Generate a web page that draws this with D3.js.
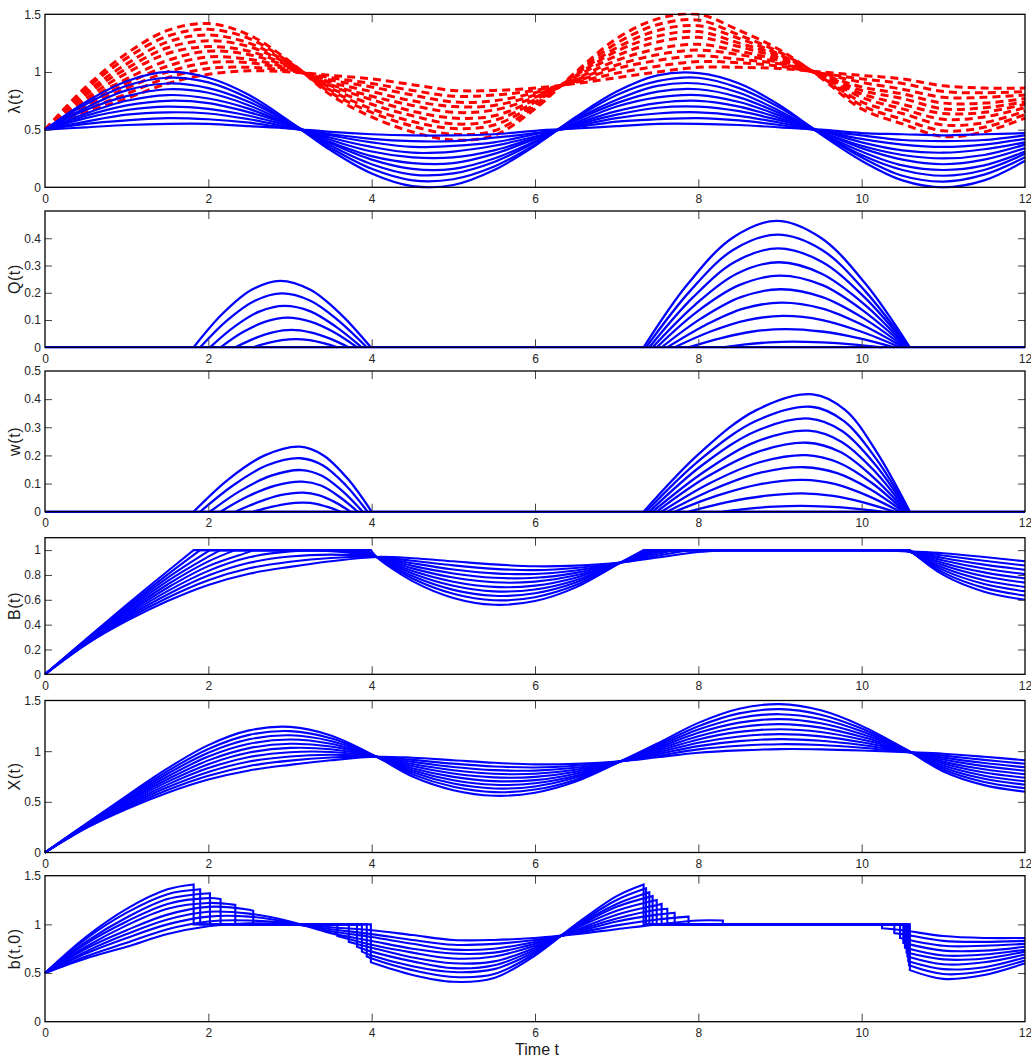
<!DOCTYPE html>
<html><head><meta charset="utf-8">
<script src="https://cdn.jsdelivr.net/npm/d3@7"></script>
<style>
body{margin:0;background:#fff;}
.tick text{font-family:"Liberation Sans Narrow","Arial Narrow","Liberation Sans",sans-serif;font-size:12px;fill:#262626;}
.tick line{stroke:#444;stroke-width:1;}
.ylab{font-family:"Liberation Sans",Arial,sans-serif;font-size:16px;fill:#1a1a1a;letter-spacing:0.6px;}
.xlab{font-family:"Liberation Sans Narrow","Arial Narrow",sans-serif;font-size:16px;fill:#1a1a1a;}
</style></head>
<body>
<svg id="c" width="1031" height="1059"></svg>
<script>
// ---------------- DATA ----------------
const xTickValues = [0, 2, 4, 6, 8, 10, 12];
const timeGrid = [0,0.5,1,1.5,2,2.5,3,3.5,4,4.5,5,5.5,6,6.5,7,7.5,8,8.5,9,9.5,10,10.5,11,11.5,12];

// lambda(t) blue curves (10 amplitudes, smallest first)
const lambdaBlue = [
 [.5,.52,.54,.55,.55,.53,.51,.48,.46,.45,.45,.46,.49,.51,.53,.55,.55,.54,.52,.50,.47,.46,.45,.46,.47],
 [.5,.55,.58,.60,.59,.56,.51,.46,.42,.40,.40,.43,.47,.52,.57,.59,.60,.58,.54,.49,.45,.41,.40,.41,.45],
 [.5,.57,.63,.65,.64,.59,.52,.45,.39,.35,.36,.39,.46,.53,.60,.64,.65,.62,.56,.49,.42,.37,.35,.37,.42],
 [.5,.60,.67,.70,.68,.62,.53,.43,.35,.30,.31,.36,.44,.54,.63,.69,.70,.66,.58,.49,.39,.32,.30,.33,.39],
 [.5,.62,.71,.75,.73,.65,.54,.41,.31,.26,.26,.32,.43,.55,.66,.73,.75,.70,.60,.48,.36,.28,.25,.28,.37],
 [.5,.64,.75,.80,.77,.68,.54,.39,.27,.21,.21,.29,.42,.56,.70,.78,.80,.74,.62,.48,.34,.24,.20,.24,.34],
 [.5,.67,.79,.85,.82,.71,.55,.38,.24,.16,.16,.25,.40,.58,.73,.83,.85,.78,.64,.47,.31,.19,.15,.19,.31],
 [.5,.69,.84,.90,.86,.74,.56,.36,.20,.11,.12,.22,.39,.59,.76,.88,.90,.82,.66,.47,.28,.15,.10,.15,.29],
 [.5,.72,.88,.95,.91,.77,.56,.34,.16,.06,.07,.18,.37,.60,.80,.92,.95,.86,.69,.47,.26,.10,.05,.11,.26],
 [.5,.74,.92,1.0,.95,.80,.57,.32,.12,.01,.02,.15,.36,.61,.83,.97,.99,.90,.71,.46,.23,.06,0,.06,.23]
];

// red dashed curves in the lambda panel (smooth entry-rate curves)
const lambdaRed = [
 [.5,.65,.77,.90,.98,1.01,1.0,.97,.94,.89,.84,.84,.86,.90,.95,1.0,1.04,1.04,1.03,1.0,.97,.94,.88,.86,.86],
 [.5,.67,.81,.95,1.03,1.04,1.01,.95,.90,.84,.79,.80,.84,.91,.99,1.05,1.09,1.08,1.05,.99,.94,.90,.83,.82,.83],
 [.5,.70,.86,1.00,1.08,1.08,1.02,.93,.87,.80,.74,.75,.82,.92,1.03,1.10,1.14,1.11,1.07,.99,.91,.85,.78,.78,.80],
 [.5,.72,.90,1.05,1.13,1.11,1.03,.91,.83,.75,.70,.71,.80,.93,1.06,1.15,1.19,1.15,1.08,.98,.87,.81,.73,.73,.77],
 [.5,.75,.94,1.10,1.18,1.15,1.04,.89,.79,.71,.65,.67,.78,.94,1.10,1.20,1.24,1.18,1.10,.98,.84,.77,.68,.69,.74],
 [.5,.77,.99,1.16,1.22,1.18,1.05,.88,.76,.66,.60,.62,.76,.96,1.14,1.26,1.30,1.22,1.12,.97,.81,.72,.64,.65,.72],
 [.5,.80,1.03,1.21,1.27,1.22,1.06,.86,.72,.62,.55,.58,.74,.97,1.18,1.31,1.35,1.25,1.14,.97,.78,.68,.59,.61,.69],
 [.5,.82,1.07,1.26,1.32,1.25,1.07,.84,.68,.57,.51,.54,.72,.98,1.21,1.36,1.40,1.29,1.15,.96,.74,.64,.54,.56,.66],
 [.5,.85,1.12,1.31,1.37,1.29,1.08,.82,.65,.53,.46,.49,.70,.99,1.25,1.41,1.45,1.32,1.17,.96,.71,.59,.49,.52,.63],
 [.5,.87,1.16,1.36,1.42,1.32,1.09,.80,.61,.48,.41,.45,.68,1.0,1.29,1.46,1.50,1.36,1.19,.95,.68,.55,.44,.48,.60]
];

// X(t) curves
const xGrid = [0,0.5,1,1.5,2,2.5,3,3.5,4.06,4.5,5,5.5,6,6.5,7.05,7.5,8,8.5,9,9.5,10,10.55,11,11.5,12];
const Xvalues = [
 [0,.24,.43,.59,.72,.81,.865,.91,.945,.935,.91,.885,.87,.875,.90,.94,.985,1.008,1.02,1.018,1.007,.99,.975,.945,.91],
 [0,.24,.444,.617,.758,.854,.907,.937,.945,.914,.877,.849,.839,.856,.90,.955,1.018,1.054,1.069,1.061,1.034,.993,.956,.914,.876],
 [0,.25,.459,.643,.795,.898,.948,.964,.945,.894,.844,.813,.808,.836,.90,.97,1.05,1.099,1.119,1.103,1.061,.996,.936,.883,.841],
 [0,.25,.473,.67,.833,.942,.99,.992,.945,.873,.812,.777,.777,.817,.90,.985,1.083,1.145,1.168,1.146,1.088,.998,.917,.852,.807],
 [0,.26,.488,.697,.871,.986,1.032,1.019,.945,.853,.779,.741,.746,.797,.90,1.0,1.116,1.19,1.217,1.189,1.115,1.001,.897,.821,.772],
 [0,.26,.502,.723,.909,1.03,1.073,1.046,.945,.832,.746,.704,.714,.778,.90,1.016,1.148,1.236,1.267,1.232,1.142,1.004,.878,.789,.738],
 [0,.27,.517,.75,.947,1.073,1.115,1.073,.945,.812,.713,.668,.683,.758,.90,1.031,1.181,1.282,1.316,1.275,1.169,1.007,.858,.758,.703],
 [0,.27,.531,.777,.985,1.117,1.157,1.10,.945,.791,.68,.632,.652,.739,.90,1.046,1.214,1.328,1.365,1.317,1.196,1.009,.839,.727,.669],
 [0,.28,.546,.803,1.022,1.161,1.198,1.128,.945,.771,.648,.596,.621,.719,.90,1.061,1.246,1.373,1.415,1.36,1.223,1.012,.819,.696,.634],
 [0,.28,.56,.83,1.06,1.205,1.24,1.155,.945,.75,.615,.56,.59,.70,.90,1.076,1.279,1.419,1.464,1.403,1.25,1.015,.80,.665,.60]
];

// intervals where the queue is positive (start, end), per curve
const queueIntervals = [
 [[8.30,10.25]],
 [[7.88,10.40]],
 [[7.71,10.47]],
 [[7.62,10.51]],
 [[2.55,3.58],[7.55,10.53]],
 [[2.33,3.72],[7.49,10.55]],
 [[2.15,3.82],[7.44,10.56]],
 [[2.02,3.88],[7.40,10.57]],
 [[1.90,3.94],[7.36,10.58]],
 [[1.82,3.99],[7.33,10.59]]
];
// b(t,0) value just before the queue starts and just after it empties
const bStepValues = [
 [[1.04,.96]],
 [[1.08,.91]],
 [[1.12,.86]],
 [[1.16,.81]],
 [[1.14,.88],[1.21,.76]],
 [[1.20,.82],[1.25,.71]],
 [[1.26,.77],[1.29,.67]],
 [[1.32,.72],[1.33,.62]],
 [[1.36,.67],[1.37,.58]],
 [[1.41,.61],[1.41,.53]]
];

// Q(t) humps
const Qhumps = [
 [[[8.30,0],[8.58,.011],[8.87,.018],[9.15,.021],[9.52,.018],[9.88,.011],[10.25,0]]],
 [[[7.88,0],[8.28,.034],[8.67,.058],[9.07,.067],[9.51,.058],[9.96,.034],[10.40,0]]],
 [[[7.71,0],[8.15,.058],[8.60,.100],[9.04,.115],[9.52,.100],[9.99,.058],[10.47,0]]],
 [[[7.62,0],[8.09,.082],[8.55,.142],[9.02,.164],[9.52,.142],[10.01,.082],[10.51,0]]],
 [[[2.55,0],[2.72,.015],[2.90,.026],[3.07,.030],[3.24,.026],[3.41,.015],[3.58,0]],[[7.55,0],[8.04,.107],[8.52,.184],[9.01,.213],[9.52,.184],[10.02,.107],[10.53,0]]],
 [[[2.33,0],[2.56,.032],[2.79,.055],[3.02,.064],[3.25,.055],[3.49,.032],[3.72,0]],[[7.49,0],[7.99,.132],[8.50,.228],[9.0,.263],[9.52,.228],[10.03,.132],[10.55,0]]],
 [[[2.15,0],[2.42,.055],[2.70,.094],[2.97,.109],[3.25,.094],[3.54,.055],[3.82,0]],[[7.44,0],[7.96,.156],[8.47,.270],[8.99,.312],[9.51,.270],[10.04,.156],[10.56,0]]],
 [[[2.02,0],[2.32,.076],[2.63,.132],[2.93,.152],[3.25,.132],[3.56,.076],[3.88,0]],[[7.40,0],[7.93,.182],[8.45,.314],[8.98,.363],[9.51,.314],[10.04,.182],[10.57,0]]],
 [[[1.90,0],[2.23,.099],[2.57,.171],[2.90,.198],[3.25,.171],[3.59,.099],[3.94,0]],[[7.36,0],[7.90,.207],[8.43,.358],[8.97,.413],[9.51,.358],[10.04,.207],[10.58,0]]],
 [[[1.82,0],[2.17,.122],[2.53,.211],[2.88,.244],[3.25,.211],[3.62,.122],[3.99,0]],[[7.33,0],[7.87,.232],[8.42,.402],[8.96,.464],[9.50,.402],[10.05,.232],[10.59,0]]]
];

// w(t) humps
const whumps = [
 [[[8.30,0],[8.62,.011],[8.93,.018],[9.25,.021],[9.58,.018],[9.92,.011],[10.25,0]]],
 [[[7.88,0],[8.34,.033],[8.81,.056],[9.27,.065],[9.65,.056],[10.02,.033],[10.40,0]]],
 [[[7.71,0],[8.23,.057],[8.76,.098],[9.28,.113],[9.68,.098],[10.07,.057],[10.47,0]]],
 [[[7.62,0],[8.18,.079],[8.74,.137],[9.30,.158],[9.70,.137],[10.11,.079],[10.51,0]]],
 [[[2.55,0],[2.76,.016],[2.96,.028],[3.17,.032],[3.32,.028],[3.47,.016],[3.62,0]],[[7.55,0],[8.14,.101],[8.73,.174],[9.32,.201],[9.72,.174],[10.13,.101],[10.53,0]]],
 [[[2.33,0],[2.61,.034],[2.88,.059],[3.16,.068],[3.35,.059],[3.55,.034],[3.74,0]],[[7.49,0],[8.10,.123],[8.72,.212],[9.33,.245],[9.74,.212],[10.14,.123],[10.55,0]]],
 [[[2.15,0],[2.48,.054],[2.82,.093],[3.15,.107],[3.38,.093],[3.60,.054],[3.83,0]],[[7.44,0],[8.08,.144],[8.71,.249],[9.35,.288],[9.75,.249],[10.16,.144],[10.56,0]]],
 [[[2.02,0],[2.39,.074],[2.77,.128],[3.14,.148],[3.39,.128],[3.64,.074],[3.89,0]],[[7.40,0],[8.05,.166],[8.71,.287],[9.36,.331],[9.76,.287],[10.17,.166],[10.57,0]]],
 [[[1.90,0],[2.31,.095],[2.72,.165],[3.13,.190],[3.40,.165],[3.68,.095],[3.95,0]],[[7.36,0],[8.03,.187],[8.71,.323],[9.38,.373],[9.78,.323],[10.18,.187],[10.58,0]]],
 [[[1.82,0],[2.25,.116],[2.69,.200],[3.12,.231],[3.41,.200],[3.71,.116],[4.0,0]],[[7.33,0],[8.02,.209],[8.71,.361],[9.40,.417],[9.80,.361],[10.19,.209],[10.59,0]]]
];

const yTicksLambda = [0, 0.5, 1, 1.5];
const yTicksQ = [0, 0.1, 0.2, 0.3, 0.4];
const yTicksW = [0, 0.1, 0.2, 0.3, 0.4, 0.5];
const yTicksB = [0, 0.2, 0.4, 0.6, 0.8, 1];
const yTicksX = [0, 0.5, 1, 1.5];
const yTicksb = [0, 0.5, 1, 1.5];

// ---------------- DRAWING ----------------
const svg = d3.select('#c');
const X0 = 45, X1 = 1025;
const x = d3.scaleLinear().domain([0, 12]).range([X0, X1]);
const BLUE = '#0000ff', RED = '#ff0000';

function panel(top, bottom, ymax, yticks, label) {
  const y = d3.scaleLinear().domain([0, ymax]).range([bottom, top]);
  const id = 'clip' + Math.round(top);
  svg.append('clipPath').attr('id', id).append('rect')
    .attr('x', X0 - 1.5).attr('y', top - 1.5).attr('width', X1 - X0 + 3).attr('height', bottom - top + 3);
  const plot = svg.append('g').attr('clip-path', `url(#${id})`);
  const ax = svg.append('g');
  const bx = ax.append('g').attr('transform', `translate(0,${bottom})`)
    .call(d3.axisBottom(x).tickValues(xTickValues).tickSizeInner(-8).tickSizeOuter(0).tickPadding(7).tickFormat(d => String(d)));
  const tx = ax.append('g').attr('transform', `translate(0,${top})`)
    .call(d3.axisTop(x).tickValues(xTickValues.slice(1, -1)).tickSizeInner(-8).tickSizeOuter(0).tickFormat(''));
  const lx = ax.append('g').attr('transform', `translate(${X0},0)`)
    .call(d3.axisLeft(y).tickValues(yticks).tickSizeInner(-7).tickSizeOuter(0).tickPadding(4).tickFormat(d => String(d)));
  const rx = ax.append('g').attr('transform', `translate(${X1},0)`)
    .call(d3.axisRight(y).tickValues(yticks.filter(v => v > 0 && v < ymax)).tickSizeInner(-7).tickSizeOuter(0).tickFormat(''));
  [bx, tx, lx, rx].forEach(a => a.select('.domain').remove());
  bx.selectAll('.tick line').filter(d => d === 0 || d === 12).remove();
  lx.selectAll('.tick line').filter(d => d === 0 || d === ymax).remove();
  ax.append('rect').attr('x', X0).attr('y', top).attr('width', X1 - X0).attr('height', bottom - top)
    .attr('fill', 'none').attr('stroke', '#000').attr('stroke-width', 1.3);
  svg.append('text').attr('class', 'ylab').attr('text-anchor', 'middle')
    .attr('transform', `translate(20,${(top + bottom) / 2}) rotate(-90)`).text(label);
  return { y, plot };
}

function pairs(T, vals) { return T.map((t, i) => [t, vals[i]]); }

function buildSegs(T, vals, ivs, flat) {
  const m = 0.045, segs = [];
  let start = null, lo = -Infinity;
  const pts = (a, b) => T.map((t, i) => [t, vals[i]]).filter(p => p[0] > a && p[0] < b);
  ivs.forEach(([s, vs, e, ve]) => {
    const seg = (start ? [start] : []).concat(pts(lo + m, s - m));
    seg.push([s, vs]);
    segs.push(seg);
    segs.push([[s, flat], [e, flat]]);
    start = [e, ve]; lo = e;
  });
  segs.push((start ? [start] : []).concat(pts(lo + m, Infinity)));
  return segs;
}
function segPath(segs, line) {
  return segs.filter(s => s.length > 1).map((s, i) => { const d = line(s); return i ? d.replace(/^M/, 'L') : d; }).join('');
}

// Panel 1: lambda(t)
{
  const { y, plot } = panel(14.3, 187.3, 1.5, yTicksLambda, 'λ(t)');
  const line = d3.line().x(d => x(d[0])).y(d => y(d[1])).curve(d3.curveCatmullRom.alpha(0.5));
  lambdaRed.forEach(v => plot.append('path').attr('d', line(pairs(timeGrid, v)))
    .attr('fill', 'none').attr('stroke', RED).attr('stroke-width', 3).attr('stroke-dasharray', '8,5'));
  lambdaBlue.forEach(v => plot.append('path').attr('d', line(pairs(timeGrid, v)))
    .attr('fill', 'none').attr('stroke', BLUE).attr('stroke-width', 2.2));
}
// Panels 2-3: Q(t), w(t)
function humpPanel(top, bottom, ticks, label, humps) {
  const { y, plot } = panel(top, bottom, 0.5, ticks, label);
  const line = d3.line().x(d => x(d[0])).y(d => Math.min(y(d[1]), y(0))).curve(d3.curveCatmullRom.alpha(0.5));
  plot.append('path').attr('d', d3.line().x(d => x(d[0])).y(d => y(d[1]))([[0, 0], [12, 0]]))
    .attr('stroke', BLUE).attr('stroke-width', 2.4).attr('fill', 'none');
  humps.forEach(list => list.forEach(h => plot.append('path').attr('d', line(h))
    .attr('fill', 'none').attr('stroke', BLUE).attr('stroke-width', 2.3)));
}
humpPanel(211, 347.3, yTicksQ, 'Q(t)', Qhumps);
humpPanel(371, 511.7, yTicksW, 'w(t)', whumps);

// Panel 4: B(t)
{
  const { y, plot } = panel(537.7, 674.3, 1.1, yTicksB, 'B(t)');
  const line = d3.line().x(d => x(d[0])).y(d => y(d[1])).curve(d3.curveCatmullRom.alpha(0.5));
  Xvalues.forEach((v, k) => {
    const ivs = queueIntervals[k].map(([s, e]) => [s, 1, e, 1]);
    plot.append('path').attr('d', segPath(buildSegs(xGrid, v, ivs, 1), line))
      .attr('fill', 'none').attr('stroke', BLUE).attr('stroke-width', 2.1);
  });
}
// Panel 5: X(t)
{
  const { y, plot } = panel(700.5, 852.5, 1.5, yTicksX, 'X(t)');
  const line = d3.line().x(d => x(d[0])).y(d => y(d[1])).curve(d3.curveCatmullRom.alpha(0.5));
  Xvalues.forEach(v => plot.append('path').attr('d', line(pairs(xGrid, v)))
    .attr('fill', 'none').attr('stroke', BLUE).attr('stroke-width', 2.1));
}
// Panel 6: b(t,0)
{
  const { y, plot } = panel(875.7, 1021.7, 1.5, yTicksb, 'b(t,0)');
  const line = d3.line().x(d => x(d[0])).y(d => y(d[1])).curve(d3.curveCatmullRom.alpha(0.5));
  lambdaRed.forEach((v, k) => {
    const ivs = queueIntervals[k].map(([s, e], j) => [s, bStepValues[k][j][0], e, bStepValues[k][j][1]]);
    plot.append('path').attr('d', segPath(buildSegs(timeGrid, v, ivs, 1), line))
      .attr('fill', 'none').attr('stroke', BLUE).attr('stroke-width', 2.1);
  });
}
svg.append('text').attr('class', 'xlab').attr('x', 537).attr('y', 1055).attr('text-anchor', 'middle').text('Time t');
</script>
</body></html>
